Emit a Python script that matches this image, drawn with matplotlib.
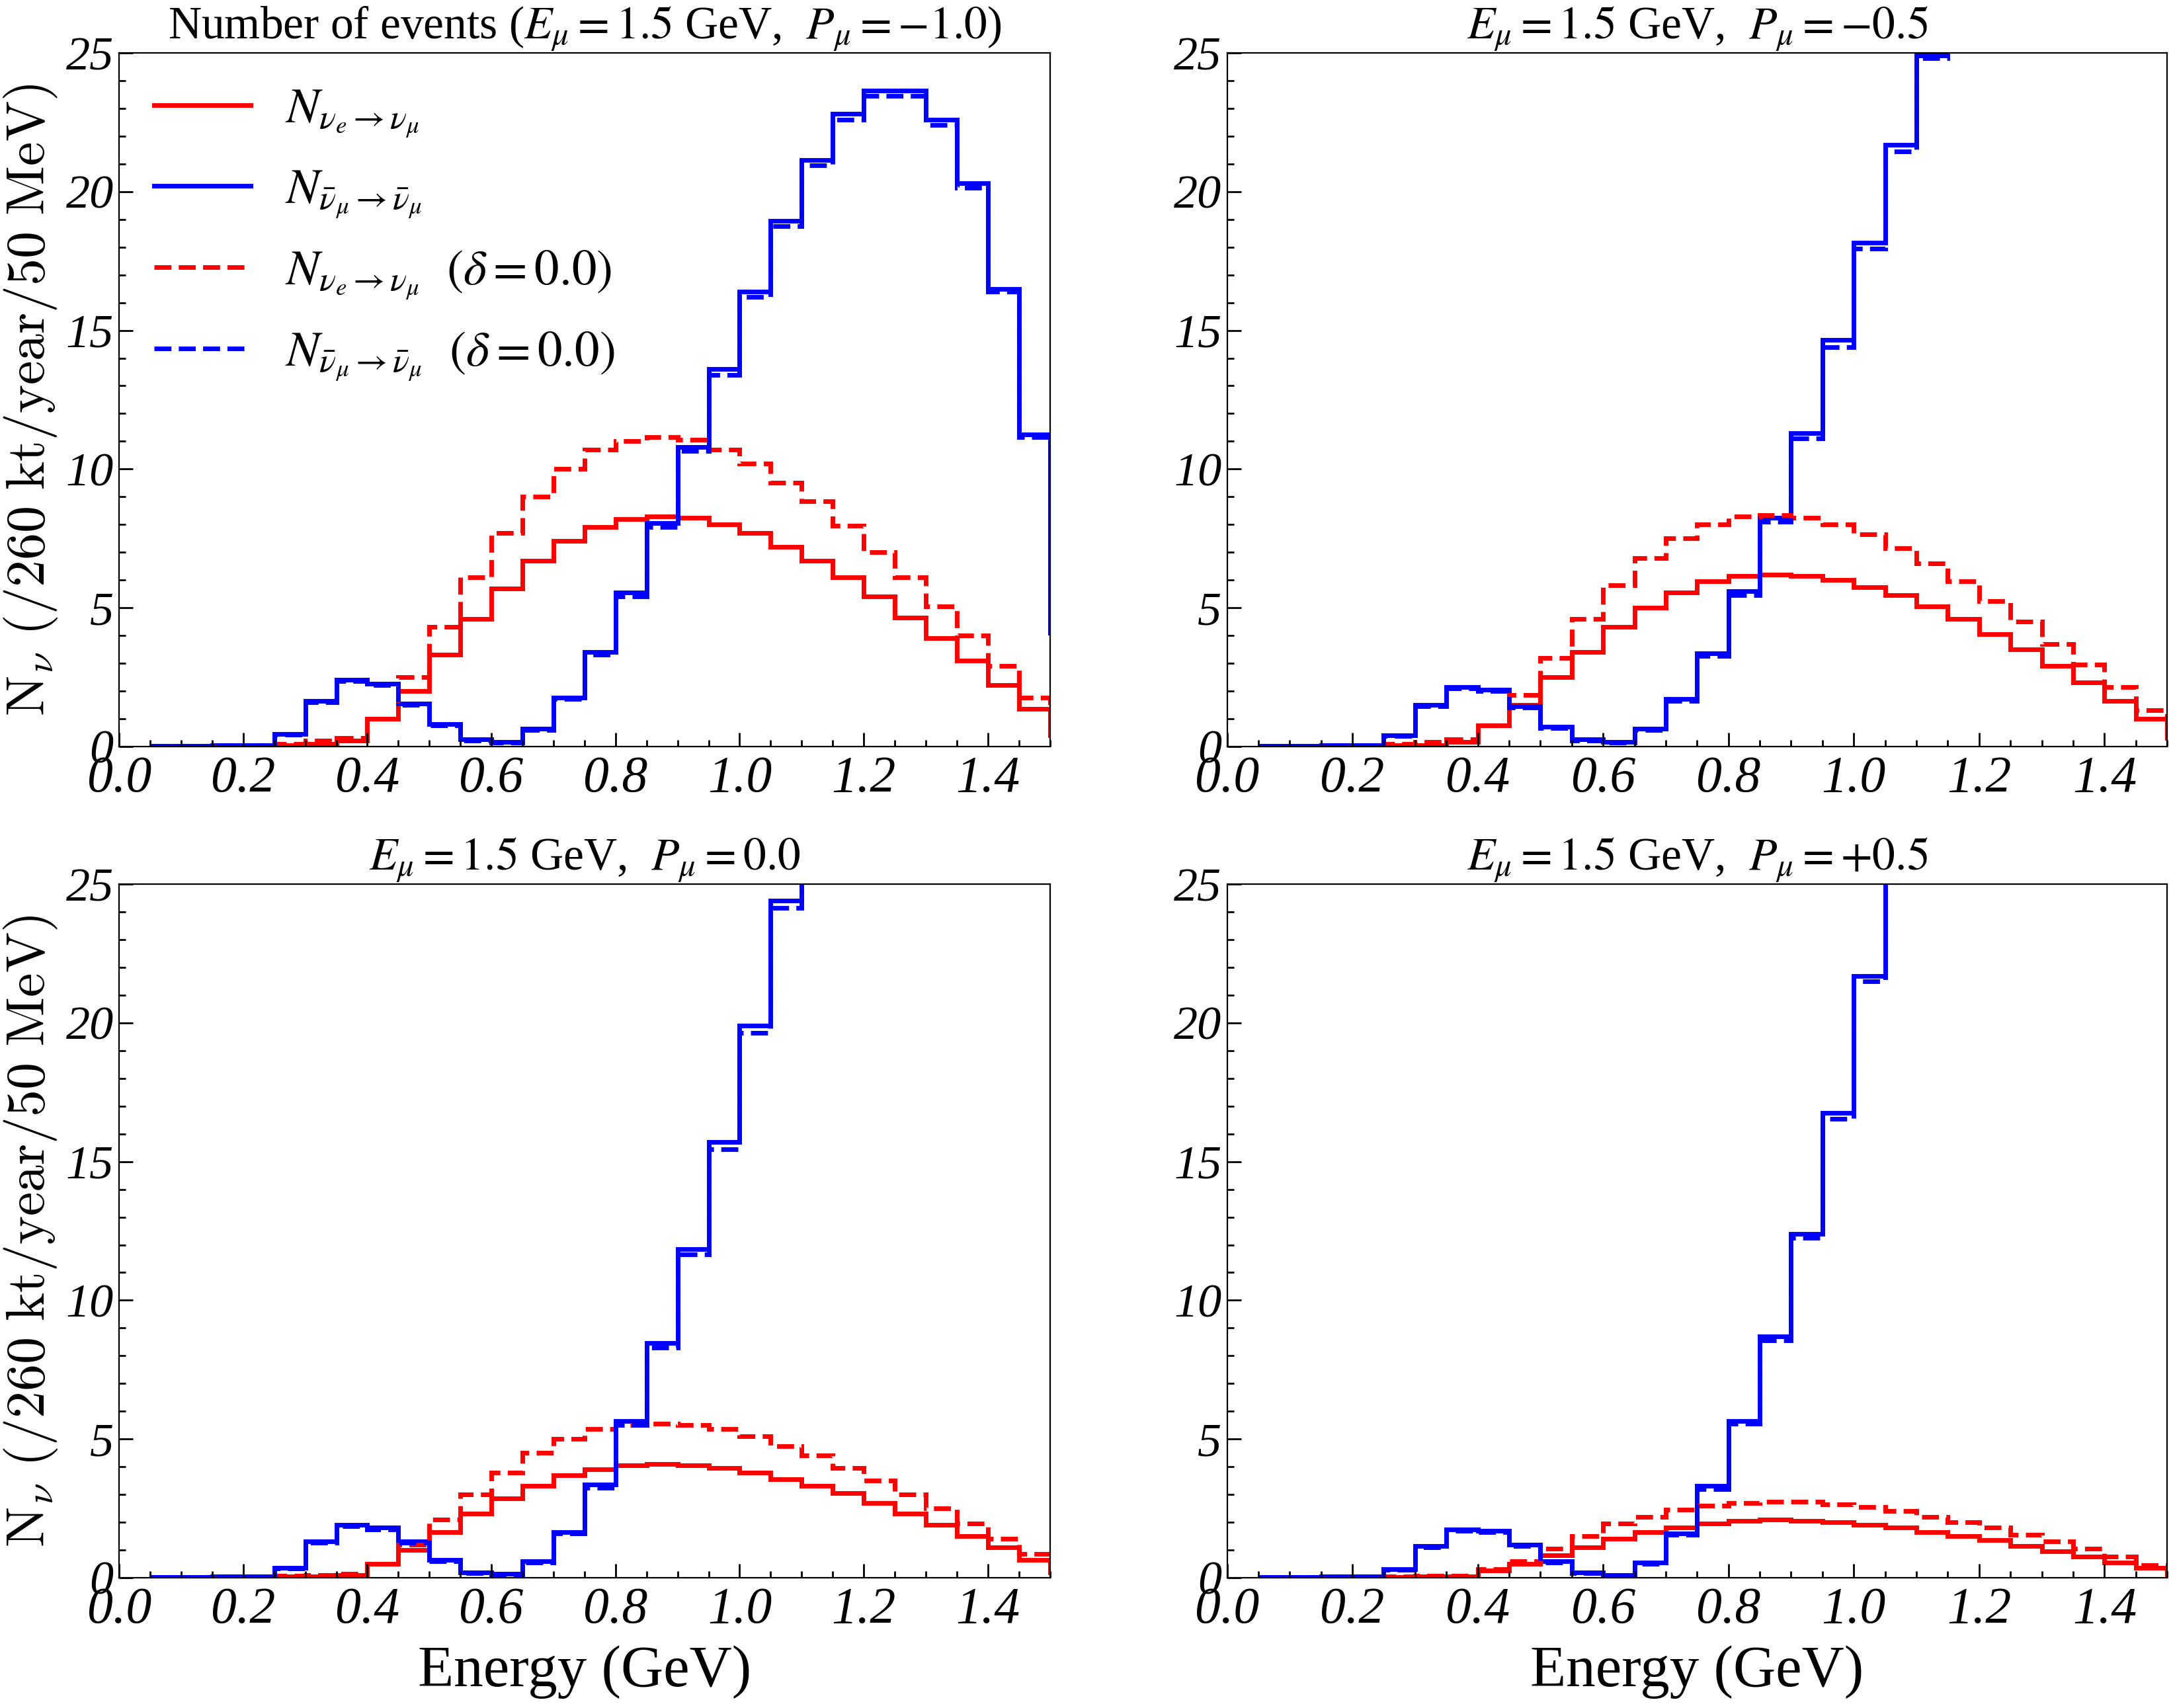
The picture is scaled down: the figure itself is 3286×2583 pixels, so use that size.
import numpy as np
import matplotlib
matplotlib.use("Agg")
import matplotlib.pyplot as plt

plt.rcParams['font.family'] = ['Liberation Serif', 'DejaVu Serif']
plt.rcParams['mathtext.fontset'] = 'stix'

# 50 MeV bins from 0.05 GeV, last bin runs past the axis limit
edges = np.linspace(0.05, 1.55, 31)

titles = [r'Number of events ($E_\mu = 1.5$ GeV,  $P_\mu = -1.0$)',
          r'$E_\mu = 1.5$ GeV,  $P_\mu = -0.5$',
          r'$E_\mu = 1.5$ GeV,  $P_\mu = 0.0$',
          r'$E_\mu = 1.5$ GeV,  $P_\mu = +0.5$']

labels = [r'$N_{\nu_e \rightarrow \nu_\mu}$',
          r'$N_{\bar{\nu}_\mu \rightarrow \bar{\nu}_\mu}$',
          r'$N_{\nu_e \rightarrow \nu_\mu}\ \ (\delta = 0.0)$',
          r'$N_{\bar{\nu}_\mu \rightarrow \bar{\nu}_\mu}\ \ (\delta = 0.0)$']

# P = -1.0
red_m10 = [0, 0, 0, 0.02, 0.05, 0.1, 0.2, 1.0, 2.0, 3.3, 4.6, 5.7, 6.7, 7.4, 7.9, 8.2, 8.3, 8.25,
           8.0, 7.7, 7.2, 6.7, 6.1, 5.4, 4.65, 3.9, 3.1, 2.2, 1.35, 0.4]
red_d0_m10 = [0, 0, 0, 0.03, 0.1, 0.2, 0.3, 1.0, 2.5, 4.3, 6.1, 7.7, 9.0, 10.0, 10.7, 11.0, 11.15, 11.05,
              10.7, 10.2, 9.5, 8.85, 7.95, 7.0, 6.1, 5.05, 4.0, 2.9, 1.75, 0.6]
blue_m10 = [0.02, 0.03, 0.04, 0.05, 0.45, 1.65, 2.4, 2.25, 1.55, 0.8, 0.25, 0.15, 0.65, 1.75, 3.4, 5.55,
            8.05, 10.8, 13.6, 16.4, 18.95, 21.15, 22.8, 23.65, 23.65, 22.6, 20.3, 16.5, 11.25, 4.1]
blue_d0_m10 = [0.02, 0.03, 0.04, 0.05, 0.43, 1.6, 2.35, 2.2, 1.5, 0.75, 0.22, 0.13, 0.6, 1.7, 3.3, 5.4,
               7.9, 10.65, 13.4, 16.2, 18.75, 20.95, 22.6, 23.45, 23.45, 22.4, 20.15, 16.4, 11.15, 4.0]

# P = -0.5 (blue runs off the top of the axes above ~1.15 GeV)
red_m05 = [0, 0, 0, 0.02, 0.05, 0.05, 0.15, 0.75, 1.5, 2.5, 3.4, 4.3, 5.0, 5.55, 5.95, 6.15, 6.2, 6.15,
           6.0, 5.75, 5.45, 5.05, 4.6, 4.05, 3.5, 2.9, 2.3, 1.65, 1.0, 0.3]
red_d0_m05 = [0, 0, 0, 0.03, 0.1, 0.15, 0.25, 0.75, 1.85, 3.2, 4.6, 5.8, 6.8, 7.5, 8.0, 8.3, 8.35, 8.25,
              8.0, 7.65, 7.15, 6.6, 5.95, 5.25, 4.5, 3.7, 2.95, 2.15, 1.3, 0.5]
blue_m05 = [0.02, 0.03, 0.04, 0.05, 0.4, 1.5, 2.15, 2.05, 1.45, 0.7, 0.25, 0.15, 0.65, 1.7, 3.35, 5.6,
            8.25, 11.3, 14.65, 18.15, 21.7, 24.9, 28, 30, 31, 31, 30, 29, 28, 27]
blue_d0_m05 = [0.02, 0.03, 0.04, 0.05, 0.38, 1.45, 2.1, 2.0, 1.4, 0.67, 0.22, 0.13, 0.6, 1.65, 3.25, 5.45,
               8.1, 11.1, 14.4, 17.95, 21.45, 24.8, 27.7, 29.7, 30.7, 30.7, 29.7, 28.7, 27.7, 26.7]

# P = 0.0
red_p00 = [0, 0, 0, 0.02, 0.05, 0.05, 0.1, 0.5, 1.0, 1.65, 2.3, 2.85, 3.3, 3.7, 3.9, 4.05, 4.1, 4.05,
           3.95, 3.8, 3.55, 3.3, 3.05, 2.7, 2.3, 1.9, 1.5, 1.1, 0.65, 0.2]
red_d0_p00 = [0, 0, 0, 0.03, 0.08, 0.1, 0.15, 0.5, 1.2, 2.1, 3.0, 3.8, 4.5, 5.0, 5.35, 5.5, 5.55, 5.5,
              5.35, 5.1, 4.75, 4.4, 3.95, 3.5, 3.0, 2.5, 1.95, 1.4, 0.85, 0.3]
blue_p00 = [0.02, 0.03, 0.04, 0.05, 0.35, 1.3, 1.9, 1.8, 1.3, 0.65, 0.2, 0.15, 0.6, 1.65, 3.35, 5.65,
            8.45, 11.85, 15.7, 19.9, 24.4, 28, 31, 33, 34, 34, 33, 32, 31, 30]
blue_d0_p00 = [0.02, 0.03, 0.04, 0.05, 0.33, 1.25, 1.85, 1.75, 1.25, 0.6, 0.17, 0.12, 0.55, 1.6, 3.25, 5.5,
               8.3, 11.65, 15.45, 19.65, 24.15, 27.7, 30.7, 32.7, 33.7, 33.7, 32.7, 31.7, 30.7, 29.7]

# P = +0.5
red_p05 = [0, 0, 0, 0.01, 0.03, 0.04, 0.05, 0.25, 0.5, 0.8, 1.1, 1.4, 1.65, 1.8, 1.95, 2.05, 2.1, 2.05,
           2.0, 1.9, 1.8, 1.65, 1.5, 1.35, 1.15, 0.95, 0.75, 0.55, 0.35, 0.1]
red_d0_p05 = [0, 0, 0, 0.02, 0.05, 0.06, 0.08, 0.3, 0.6, 1.05, 1.5, 1.95, 2.2, 2.45, 2.6, 2.7, 2.75, 2.75,
              2.65, 2.55, 2.4, 2.2, 2.0, 1.8, 1.55, 1.3, 1.05, 0.75, 0.45, 0.15]
blue_p05 = [0.02, 0.03, 0.04, 0.05, 0.3, 1.15, 1.75, 1.7, 1.2, 0.6, 0.2, 0.1, 0.55, 1.6, 3.3, 5.65,
            8.7, 12.4, 16.75, 21.7, 27, 31, 34, 36, 37, 37, 36, 35, 34, 33]
blue_d0_p05 = [0.02, 0.03, 0.04, 0.05, 0.28, 1.1, 1.7, 1.65, 1.15, 0.55, 0.17, 0.08, 0.5, 1.55, 3.2, 5.55,
               8.55, 12.25, 16.55, 21.5, 26.7, 30.7, 33.7, 35.7, 36.7, 36.7, 35.7, 34.7, 33.7, 32.7]

panels = [(red_m10, blue_m10, red_d0_m10, blue_d0_m10),
          (red_m05, blue_m05, red_d0_m05, blue_d0_m05),
          (red_p00, blue_p00, red_d0_p00, blue_d0_p00),
          (red_p05, blue_p05, red_d0_p05, blue_d0_p05)]

fig = plt.figure(figsize=(16.435, 12.915), dpi=200)
# axes boxes [left, bottom, width, height] in figure fraction
boxes = [[0.0548, 0.563, 0.4282, 0.406],
         [0.5645, 0.563, 0.4325, 0.406],
         [0.0548, 0.0763, 0.4282, 0.406],
         [0.5645, 0.0763, 0.4325, 0.406]]

xt = [0.0, 0.2, 0.4, 0.6, 0.8, 1.0, 1.2, 1.4]
yt = [0, 5, 10, 15, 20, 25]

lw = 2.5
for i, (box, data) in enumerate(zip(boxes, panels)):
    ax = fig.add_axes(box)
    rs, bs, rd, bd = data
    ax.stairs(rs, edges, baseline=None, color='red', lw=lw, label=labels[0])
    ax.stairs(bs, edges, baseline=None, color='blue', lw=lw, label=labels[1])
    ax.stairs(rd, edges, baseline=None, color='red', lw=lw, ls='--', label=labels[2])
    ax.stairs(bd, edges, baseline=None, color='blue', lw=lw, ls='--', label=labels[3])

    ax.set_xlim(0, 1.5)
    ax.set_ylim(0, 25)
    ax.set_xticks(xt, ['%.1f' % t for t in xt], fontstyle='italic', fontsize=28)
    ax.set_xticks(np.arange(0, 1.51, 0.05), minor=True)
    ax.set_yticks(yt, [str(t) for t in yt], fontstyle='italic', fontsize=26)
    ax.set_yticks(np.arange(0, 26, 1), minor=True)
    ax.tick_params(which='both', direction='in', top=False, right=False, width=1.0)
    ax.tick_params(which='major', length=7.5)
    ax.tick_params(which='minor', length=3.5)
    ax.tick_params(axis='x', pad=5)
    ax.tick_params(axis='y', pad=3)
    for s in ax.spines.values():
        s.set_linewidth(0.8)

    ax.set_title(titles[i], fontsize=25, pad=4)
    if i % 2 == 0:
        ax.set_ylabel(r'$\mathrm{N}_\nu\ \mathrm{(/260\ kt/year/50\ MeV)}$', fontsize=29.5,
                      math_fontfamily='cm')
        ax.yaxis.set_label_coords(-0.064, 0.5)
    if i >= 2:
        ax.set_xlabel('Energy (GeV)', fontsize=32, labelpad=6)
    if i == 0:
        ax.legend(loc='upper left', frameon=False, fontsize=27, handlelength=1.95,
                  handletextpad=0.7, labelspacing=0.58, borderaxespad=0.3)

fig.savefig('out.png', dpi=200)
